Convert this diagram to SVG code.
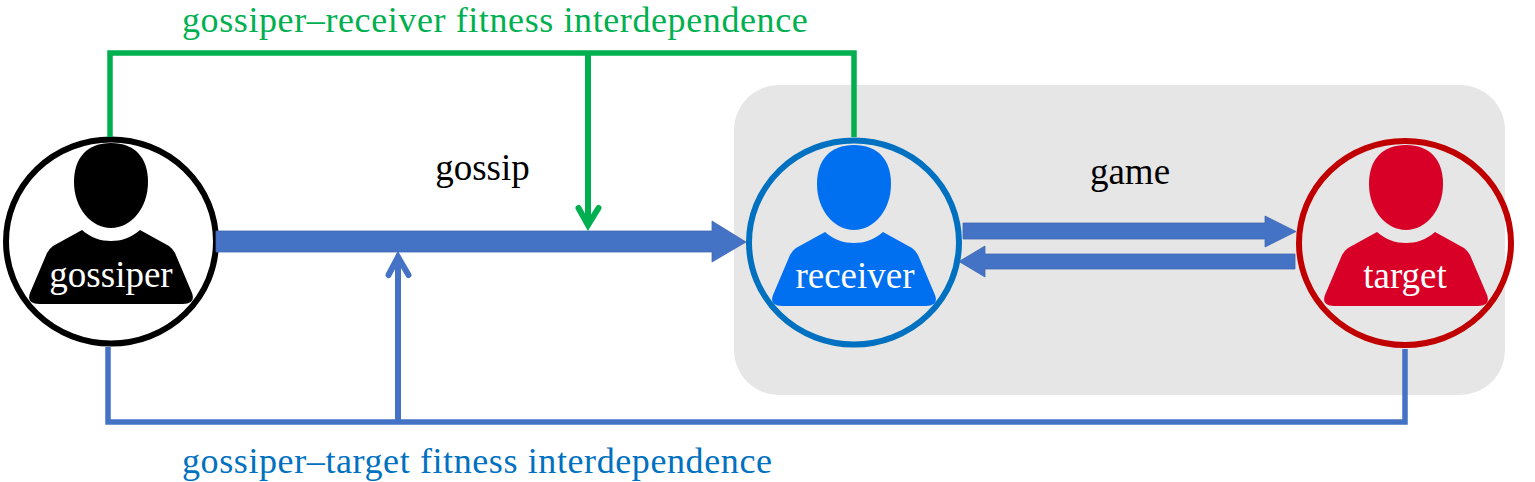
<svg xmlns="http://www.w3.org/2000/svg" xmlns:xlink="http://www.w3.org/1999/xlink" width="1535" height="482" viewBox="0 0 1535 482">
<style>
text{font-family:"Liberation Serif","Times New Roman",serif;font-size:37px}
.lbl{text-anchor:middle}
.in{text-anchor:middle;fill:#fff}
.long{font-size:36px;letter-spacing:.6px}
.ring{fill:none;stroke-width:6}
.ln{fill:none;stroke-width:5.500;stroke-linejoin:miter}
.hd{fill:none;stroke-width:6;stroke-linecap:round;stroke-linejoin:miter}
.blk{fill:#4472C4;stroke:#3F68B4;stroke-width:.8}
</style>
<defs>
<g id="person">
<path d="M0,143C24,143 37,158 37,182C37,208 20,228 0,228C-20,228 -37,208 -37,182C-37,158 -24,143 0,143Z"/>
<path d="M-29,230C-20,238 -10,241 0,241C10,241 20,238 29,230L58,246Q62,249 64,253L81,293Q85,304 72,304L-72,304Q-85,304 -81,293L-64,253Q-62,249 -58,246Z"/>
</g>
</defs>
<rect id="game-panel" x="734" y="85" width="771" height="310" rx="45" fill="#E7E6E6"/>
<g id="gossiper">
<ellipse class="ring" cx="111" cy="241.500" rx="105" ry="102" stroke="#000"/>
<use xlink:href="#person" href="#person" transform="translate(111,0)" fill="#000"/>
<text class="in" x="111" y="287">gossiper</text>
</g>
<g id="receiver">
<ellipse class="ring" cx="854" cy="242.500" rx="105" ry="102" stroke="#0070C0"/>
<use xlink:href="#person" href="#person" transform="translate(854,2)" fill="#006FF0"/>
<text class="in" x="855" y="288">receiver</text>
</g>
<g id="target">
<ellipse class="ring" cx="1405" cy="243" rx="106" ry="102" stroke="#C00000"/>
<use xlink:href="#person" href="#person" transform="translate(1406,2)" fill="#D80027"/>
<text class="in" x="1405" y="288">target</text>
</g>
<g id="connectors">
<path class="ln" stroke="#00B050" d="M110,137V53H854V137"/>
<path class="hd" stroke="#00B050" d="M588,56V225M578.500,208L588,225L598.500,208"/>
<path class="ln" stroke="#4472C4" d="M108,347V422H1405V349"/>
<path class="hd" stroke="#4472C4" d="M398,419V257M388.500,275L398,257L408.500,275"/>
<path class="blk" d="M216,231H712V221L746,242L712,262V252H216Z"/>
<path class="blk" d="M963,223H1265V216L1296,231.500L1265,247V239H963Z"/>
<path class="blk" d="M1295,254H985V246L959,261.500L985,277V269H1295Z"/>
</g>
<g id="labels">
<text class="long" x="182" y="32" fill="#00B050">gossiper–receiver fitness interdependence</text>
<text class="lbl" x="482.500" y="180" fill="#000">gossip</text>
<text class="lbl" x="1130" y="184" fill="#000">game</text>
<text class="long" x="182" y="473" fill="#0070C0">gossiper–target fitness interdependence</text>
</g>
</svg>
